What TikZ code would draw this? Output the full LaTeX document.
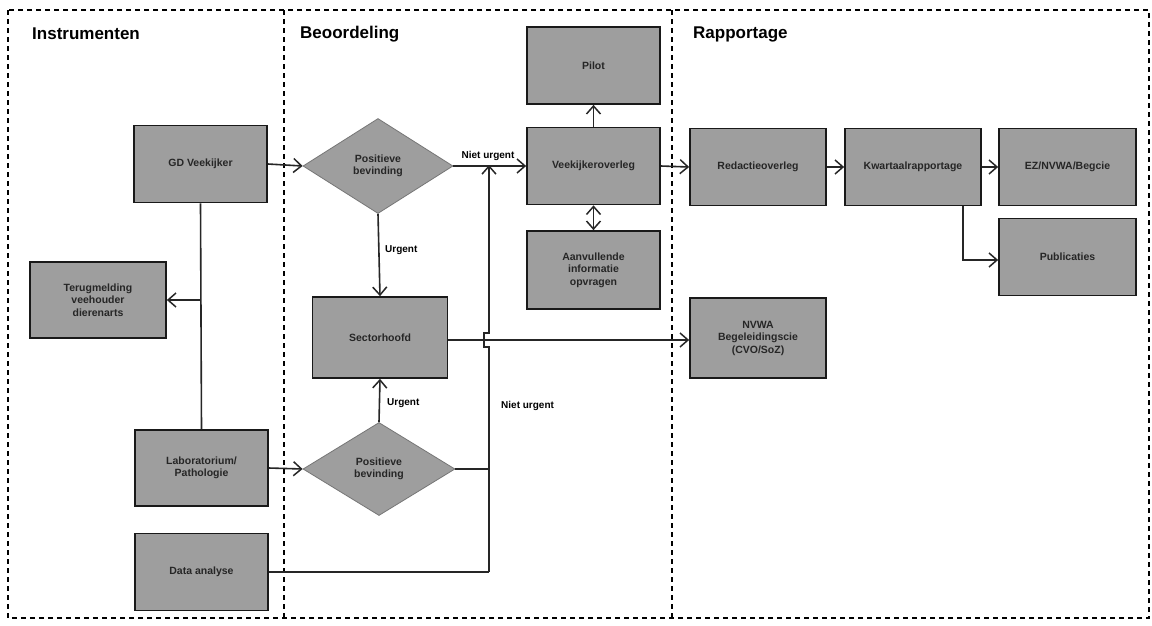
\documentclass[tikz,border=0pt]{standalone}
\usepackage{fontspec}
\setmainfont{Liberation Sans}
\usetikzlibrary{shapes.geometric,arrows.meta}
\definecolor{boxgray}{RGB}{158,158,158}
\tikzset{
  box/.style={draw=black!90,line width=1.7pt,fill=boxgray,rectangle,inner sep=2pt,
    align=center,font=\fontsize{10.5}{12.5}\selectfont\bfseries,text=black!85},
  dia/.style={draw=boxgray!75!black,line width=0.8pt,fill=boxgray,diamond,inner sep=0pt,
    align=center,font=\fontsize{10.5}{12.5}\selectfont\bfseries,text=black!85},
  title/.style={anchor=west,font=\fontsize{17}{19}\selectfont\bfseries,inner sep=0pt},
  lbl/.style={font=\fontsize{10}{12}\selectfont\bfseries,inner sep=1pt},
  conn/.style={line width=1.6pt,draw=black!85},
  arr/.style={conn,-{Straight Barb[length=8pt,width=14pt,line width=1.5pt]}},
  darr/.style={conn,{Straight Barb[length=8pt,width=14pt,line width=1.5pt]}-{Straight Barb[length=8pt,width=14pt,line width=1.5pt]}},
  frame/.style={line width=1.6pt,dash pattern=on 5pt off 4pt}
}
\begin{document}
\begin{tikzpicture}[x=1pt,y=-1pt]
\useasboundingbox (0,0) rectangle (1152,625);
\fill[white] (0,0) rectangle (1152,625);
% frame
\draw[frame] (8,10) rectangle (1149,618);
\draw[frame] (284,10) -- (284,618);
\draw[frame] (672,10) -- (672,618);
% titles
\node[title] (t1) at (32,34) {Instrumenten};
\node[title] (t2) at (300,34) {Beoordeling};
\node[title] (t3) at (693,34) {Rapportage};
% boxes
\node[box,minimum width=133pt,minimum height=77pt] (gd) at (200.5,164) {GD Veekijker};
\node[box,minimum width=136pt,minimum height=76pt] (terug) at (98,300) {Terugmelding\\veehouder\\dierenarts};
\node[box,minimum width=133pt,minimum height=76pt] (lab) at (201.5,468) {Laboratorium/\\Pathologie};
\node[box,minimum width=133pt,minimum height=77pt] (data) at (201.5,572) {Data analyse};
\node[dia,minimum width=150pt,minimum height=95pt] (d1) at (378,166) {Positieve\\bevinding};
\node[dia,minimum width=152pt,minimum height=93pt] (d2) at (379,469) {Positieve\\bevinding};
\node[box,minimum width=135pt,minimum height=81pt] (sector) at (380,337.5) {Sectorhoofd};
\node[box,minimum width=133pt,minimum height=77pt] (veek) at (593.5,166) {Veekijkeroverleg};
\node[box,minimum width=133pt,minimum height=77pt] (pilot) at (593.5,65.5) {Pilot};
\node[box,minimum width=133pt,minimum height=78pt] (aanv) at (593.5,270) {Aanvullende\\informatie\\opvragen};
\node[box,minimum width=136pt,minimum height=77pt] (redac) at (758,167) {Redactieoverleg};
\node[box,minimum width=136pt,minimum height=77pt] (kwart) at (913,167) {Kwartaalrapportage};
\node[box,minimum width=137pt,minimum height=77pt] (ez) at (1067.5,167) {EZ/NVWA/Begcie};
\node[box,minimum width=137pt,minimum height=77pt] (publ) at (1067.5,257) {Publicaties};
\node[box,minimum width=136pt,minimum height=80pt] (nvwa) at (758,338) {NVWA\\Begeleidingscie\\(CVO/SoZ)};
% helper coordinates
\coordinate (gdlab) at (gd.south |- terug.east);
\coordinate (join1) at (489,166);
\coordinate (join2) at (d2.east -| join1);
\coordinate (join3) at (data.east -| join1);
\coordinate (hopb) at (489,347);
\coordinate (hopt) at (489,333);
\coordinate (kw1) at (963,205.5);
\coordinate (kw2) at (963,260);
% connectors
\draw[conn] (gd.south) -- (lab.north);
\draw[arr] (gdlab) -- (terug.east);
\draw[arr] (gd.east) -- (d1.west);
\draw[arr] (lab.east) -- (d2.west);
\draw[arr] (d1.east) -- (veek.west);
\draw[arr] (d1.south) -- (sector.north);
\draw[arr] (d2.north) -- (sector.south);
\draw[conn] (d2.east) -- (join2);
\draw[conn] (data.east) -- (join3);
\draw[arr] (join3) -- (hopb) -- ++(-5,0) -- ++(0,-14) -- (hopt) -- ([yshift=1pt]join1);
\draw[arr] (sector.east |- 0,340) -- (nvwa.west |- 0,340);
\draw[arr] (veek.north) -- (pilot.south);
\draw[darr] (veek.south) -- (aanv.north);
\draw[arr] (veek.east) -- (redac.west);
\draw[arr] (redac.east) -- (kwart.west);
\draw[arr] (kwart.east) -- (ez.west);
\draw[arr] (kw1) -- (kw2) -- (publ.west |- kw2);
% labels
\node[lbl,anchor=south] (l1) at (488,162) {Niet urgent};
\node[lbl,anchor=west] (l2) at (384,250) {Urgent};
\node[lbl,anchor=west] (l3) at (386,403) {Urgent};
\node[lbl,anchor=west] (l4) at (500,406) {Niet urgent};
\end{tikzpicture}
\end{document}
